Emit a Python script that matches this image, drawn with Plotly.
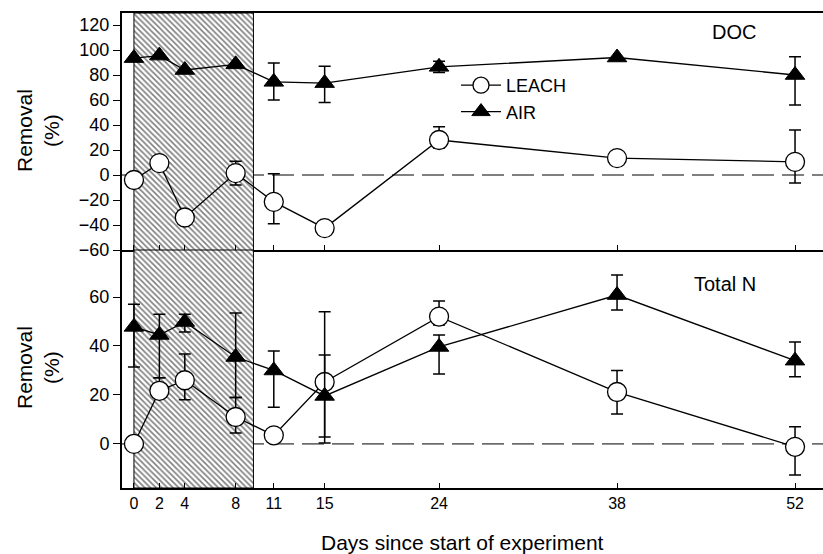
import plotly.graph_objects as go

# ---------------- data ----------------
days = [0, 2, 4, 8, 11, 15, 24, 38, 52]

doc_leach = [-4, 9.5, -34, 1.5, -21.5, -42.5, 28, 13.5, 10.5]
doc_leach_up = [0, 5, 0, 9.5, 22.5, 0, 10.5, 3, 25.5]
doc_leach_dn = [0, 0, 0, 9.5, 17.5, 0, 6.5, 3, 17]

doc_air = [93.5, 95.5, 84, 88.5, 74.5, 73.5, 86.5, 94, 80]
doc_air_up = [0, 0, 0, 0, 15, 13.5, 4.5, 0, 14.5]
doc_air_dn = [0, 0, 0, 0, 14.5, 15.5, 4.5, 0, 24]

tn_leach = [0, 21.7, 26, 11, 3.5, 25.3, 52, 21.2, -1.2]
tn_leach_up = [3, 5.3, 10.7, 8, 0, 28.7, 6.4, 8.8, 8.2]
tn_leach_dn = [0, 0, 8, 6.5, 0, 22.5, 3.4, 9, 11.5]

tn_air = [47.8, 44.5, 49.8, 35.5, 30, 19.6, 39.6, 60.8, 34]
tn_air_up = [9.2, 8.5, 3.2, 18, 8, 16.7, 4.9, 8.2, 7.6]
tn_air_dn = [16.4, 17.5, 4.1, 16.5, 15, 19.2, 11, 6.1, 6.6]

shade_start, shade_end = 0, 9.4
x_tick_labels = [str(d) for d in days]
doc_yticks = list(range(-60, 121, 20))
tn_yticks = [0, 20, 40, 60]

# ranges
X_RANGE = [-0.94, 54.2]
DOC_RANGE = [-60, 129.6]
TN_RANGE = [-18, 79.2]

FONT = "Liberation Sans, Arial, sans-serif"

fig = go.Figure()

# hatched shading
for yref_axis, rng in (("y", DOC_RANGE), ("y2", TN_RANGE)):
    fig.add_trace(go.Bar(
        x=[(shade_start + shade_end) / 2], y=[rng[1] - rng[0]], base=[rng[0]],
        width=[shade_end - shade_start],
        xaxis="x" if yref_axis == "y" else "x2", yaxis=yref_axis,
        marker=dict(color="white",
                    pattern=dict(shape="\\", fgcolor="black", bgcolor="white",
                                 size=4, solidity=0.4),
                    line=dict(color="black", width=1)),
        showlegend=False, hoverinfo="skip"))


def err(up, dn):
    return dict(type="data", symmetric=False, array=up, arrayminus=dn,
                color="black", thickness=1.5, width=6)


leach_marker = dict(symbol="circle", size=19, color="white",
                    line=dict(color="black", width=1.3))
air_marker = dict(symbol="triangle-up", size=17, color="black",
                  line=dict(color="black", width=1))
line_style = dict(color="black", width=1.3)

fig.add_trace(go.Scatter(x=days, y=doc_leach, mode="lines+markers", name="LEACH",
                         marker=leach_marker, line=line_style,
                         error_y=err(doc_leach_up, doc_leach_dn),
                         xaxis="x", yaxis="y"))
fig.add_trace(go.Scatter(x=days, y=doc_air, mode="lines+markers", name="AIR",
                         marker=air_marker, line=line_style,
                         error_y=err(doc_air_up, doc_air_dn),
                         xaxis="x", yaxis="y"))
fig.add_trace(go.Scatter(x=days, y=tn_leach, mode="lines+markers", name="LEACH",
                         marker=leach_marker, line=line_style, showlegend=False,
                         error_y=err(tn_leach_up, tn_leach_dn),
                         xaxis="x2", yaxis="y2"))
fig.add_trace(go.Scatter(x=days, y=tn_air, mode="lines+markers", name="AIR",
                         marker=air_marker, line=line_style, showlegend=False,
                         error_y=err(tn_air_up, tn_air_dn),
                         xaxis="x2", yaxis="y2"))

# dashed zero lines
for xr, yr in (("x domain", "y"), ("x2 domain", "y2")):
    fig.add_shape(type="line", xref=xr, yref=yr, x0=0, x1=1, y0=0, y1=0,
                  line=dict(color="black", width=1, dash="22px,8px"), layer="below")

W, H = 823, 554
L, R, T, B = 122, 0, 13, 66
ph = H - T - B
split = (488 - 250) / ph

axis_common = dict(showgrid=False, zeroline=False, showline=True,
                   linecolor="black", linewidth=2, tickcolor="black",
                   tickfont=dict(family=FONT, size=18, color="black"))

fig.update_layout(
    width=W, height=H,
    margin=dict(l=L, r=R, t=T, b=B),
    paper_bgcolor="white", plot_bgcolor="white",
    font=dict(family=FONT, color="black"),
    barmode="overlay",
    xaxis=dict(**axis_common, range=X_RANGE, tickvals=days, ticks="inside",
               ticklen=5, showticklabels=False, mirror=True, anchor="y",
               domain=[0, 1]),
    yaxis=dict(**axis_common, range=DOC_RANGE, tickvals=doc_yticks,
               ticks="outside", ticklen=7, domain=[split, 1], anchor="x"),
    xaxis2=dict(**{**axis_common, "tickfont": dict(family=FONT, size=16, color="black")},
                range=X_RANGE, tickvals=days, ticktext=x_tick_labels,
                ticks="inside", ticklen=5, anchor="y2", domain=[0, 1]),
    yaxis2=dict(**axis_common, range=TN_RANGE, tickvals=tn_yticks,
                ticks="outside", ticklen=7, domain=[0, split], anchor="x2"),
    legend=dict(x=(456 - L) / (W - L), y=(488 - 67) / ph, xanchor="left", yanchor="top",
                bgcolor="rgba(0,0,0,0)", font=dict(family=FONT, size=18, color="black"),
                tracegroupgap=0, itemwidth=40),
    showlegend=True,
)

ann_font = dict(family=FONT, size=21, color="black")
fig.add_annotation(text="Removal<br>(%)", textangle=-90, xref="paper", yref="paper",
                   x=(38 - L) / (W - L), y=(488 - 131) / ph, showarrow=False,
                   font=ann_font, xanchor="center", yanchor="middle")
fig.add_annotation(text="Removal<br>(%)", textangle=-90, xref="paper", yref="paper",
                   x=(38 - L) / (W - L), y=(488 - 368) / ph, showarrow=False,
                   font=ann_font, xanchor="center", yanchor="middle")
fig.add_annotation(text="Days since start of experiment", xref="paper", yref="paper",
                   x=(462 - L) / (W - L), y=(488 - 542) / ph, showarrow=False,
                   font=ann_font, xanchor="center", yanchor="middle")
fig.add_annotation(text="DOC", xref="paper", yref="paper",
                   x=(758 - L) / (W - L), y=(488 - 32) / ph, showarrow=False,
                   font=dict(family=FONT, size=20, color="black"),
                   xanchor="right", yanchor="middle")
fig.add_annotation(text="Total N", xref="paper", yref="paper",
                   x=(758 - L) / (W - L), y=(488 - 284) / ph, showarrow=False,
                   font=dict(family=FONT, size=20, color="black"),
                   xanchor="right", yanchor="middle")

fig.write_html("out.html")
